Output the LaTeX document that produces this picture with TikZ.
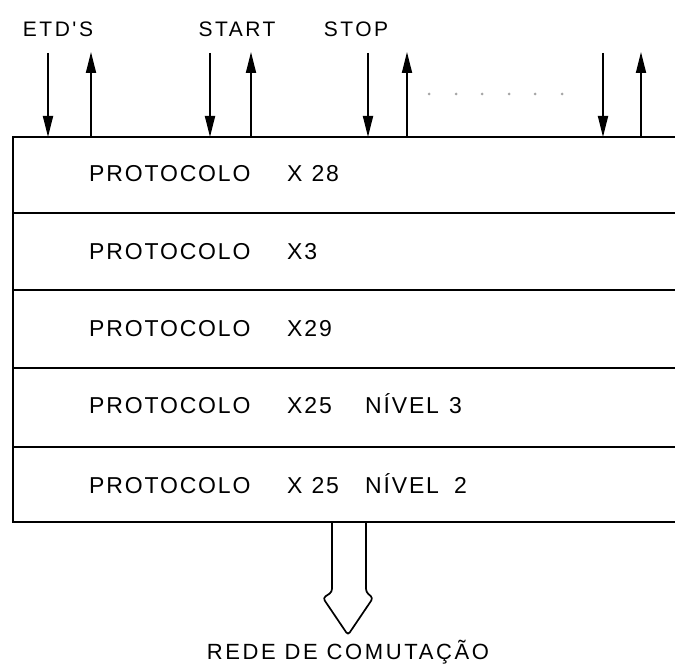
\documentclass[tikz,border=0pt]{standalone}
\usepackage{fontspec}
\setmainfont{Liberation Sans}
\newfontfamily\rowfont[LetterSpace=8]{Liberation Sans}
\newfontfamily\labfont[LetterSpace=12]{Liberation Sans}
\usepackage{tikz}
\usetikzlibrary{arrows.meta}

\tikzset{
  frame/.style={line width=2.6pt},
  rowtext/.style={anchor=base west, inner sep=0pt, font=\rowfont\fontsize{23}{23}\selectfont},
  toplabel/.style={anchor=base, inner sep=0pt, font=\labfont\fontsize{21}{21}\selectfont},
  sig/.style={line width=1.8pt, -{Triangle[length=21pt,width=10pt]}},
}

\begin{document}
\begin{tikzpicture}[x=1pt,y=-1pt]
\useasboundingbox (0,0) rectangle (675,666);
\begin{scope}
\clip (0,0) rectangle (675,666);

% Protocol stack
\draw[frame] (690,137) -- (13,137) -- (13,522) -- (690,522);
\foreach \y in {213,290,368,447}
  \draw[frame] (13,\y) -- (690,\y);

% Layer names
\foreach \n/\y/\txt in {1/182/{X\hspace{9pt}28}, 2/259/{X3}, 3/336/{X29},
                        4/413/{X25}, 5/493/{X\hspace{9pt}25}} {
  \node[rowtext] (proto\n) at (89,\y) {PROTOCOLO};
  \node[rowtext] (layer\n) at (287,\y) {\txt};
}
\node[rowtext] (nivel4) at (365,413) {NÍVEL\hspace{10pt}3};
\node[rowtext] (nivel5) at (365,493) {NÍVEL\hspace{15pt}2};

% Signals to the terminals
\node[toplabel] (etds) at (58,37) {ETD'S};
\node[toplabel] (start) at (237,37) {START};
\node[toplabel] (stop) at (356,37) {STOP};

\foreach \n/\xd/\xu in {a/48/91, b/210/251, c/368/407, d/603/641} {
  \coordinate (down-\n-top) at (\xd,53);
  \coordinate (down-\n-bot) at (\xd,137);
  \coordinate (up-\n-bot) at (\xu,137);
  \coordinate (up-\n-top) at (\xu,52);
  \draw[sig] (down-\n-top) -- (down-\n-bot);
  \draw[sig] (up-\n-bot) -- (up-\n-top);
}

% Dots between the groups
\foreach \x in {429,456,482,509,535,562}
  \fill[gray!70] (\x,94) circle(1.5pt);

% Interface to the network
\coordinate (bus-l) at (332,522);
\coordinate (bus-r) at (366,522);
\coordinate (bus-tip) at (348,635);
\draw[line width=1.7pt, rounded corners=3pt]
  (bus-l) -- (332,592) -- (323,598) -- (bus-tip) -- (373,598) -- (366,592) -- (bus-r);
\node[toplabel, font=\labfont\fontsize{22}{22}\selectfont] (rede) at (348,659) {REDE DE COMUTAÇÃO};
\end{scope}
\end{tikzpicture}
\end{document}
